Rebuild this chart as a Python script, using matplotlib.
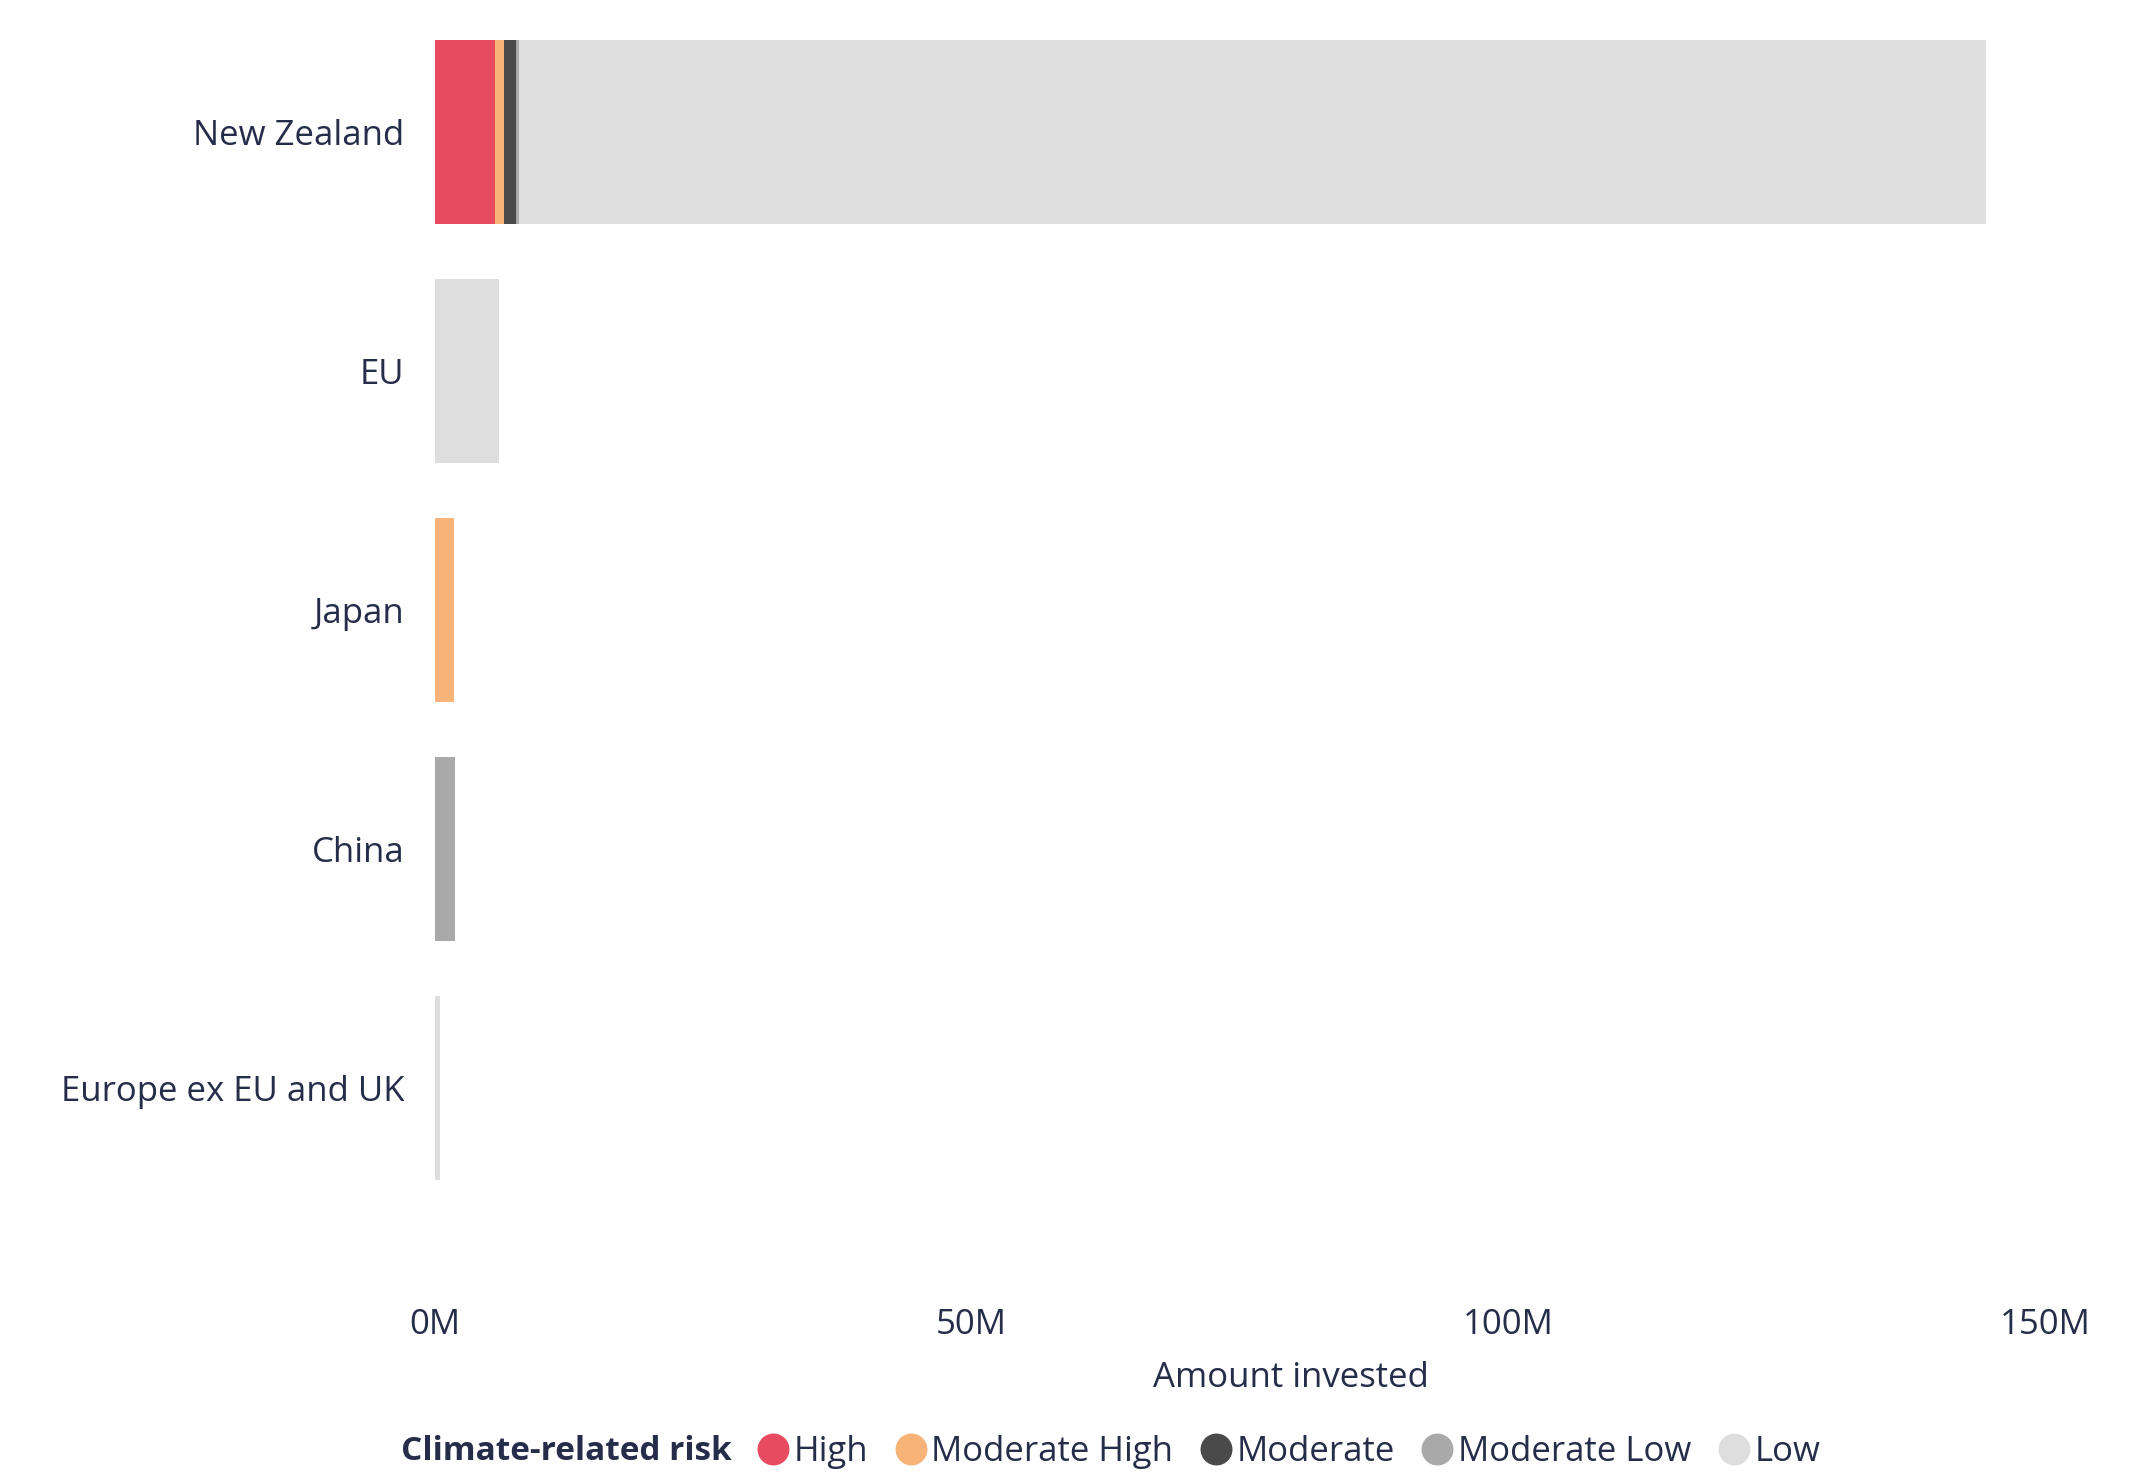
import matplotlib
matplotlib.use("Agg")
import matplotlib.pyplot as plt
from matplotlib.lines import Line2D
import numpy as np

categories = ["New Zealand", "EU", "Japan", "China", "Europe ex EU and UK"]
risk_levels = ["High", "Moderate High", "Moderate", "Moderate Low", "Low"]
# values in millions
high = [5.6, 0.0, 0.0, 0.0, 0.0]
moderate_high = [0.85, 0.0, 1.8, 0.0, 0.0]
moderate = [1.05, 0.0, 0.0, 0.0, 0.0]
moderate_low = [0.3, 0.0, 0.0, 1.9, 0.0]
low = [136.7, 6.0, 0.0, 0.0, 0.5]
xticks_m = [0, 50, 100, 150]
xtick_labels = ["0M", "50M", "100M", "150M"]

colors = ["#E84A5F", "#F8B379", "#4A4A4A", "#A9A9A9", "#DEDEDE"]
text_color = "#252D4A"

plt.rcParams['font.family'] = ['Open Sans', 'DejaVu Sans']

fig = plt.figure(figsize=(21.52, 14.75), dpi=100)
W, H = 2152, 1475
ax = fig.add_axes([435 / W, 1 - 1207.5 / H, (2045 - 435) / W, (1207.5 - 12.5) / H])

series = [high, moderate_high, moderate, moderate_low, low]
y = np.arange(len(categories))
left = np.zeros(len(categories))
for vals, c in zip(series, colors):
    v = np.array(vals) * 1e6
    ax.barh(y, v, left=left, height=0.77, color=c, edgecolor='none')
    left += v

ax.set_ylim(len(categories) - 0.5, -0.5)
ax.set_xlim(0, 150e6)
ax.set_yticks(y)
ax.set_yticklabels(categories, fontsize=25, color=text_color)
ax.set_xticks([t * 1e6 for t in xticks_m])
ax.set_xticklabels(xtick_labels, fontsize=25, color=text_color)
ax.tick_params(axis='y', length=0, pad=22)
ax.tick_params(axis='x', length=0, pad=72)
for s in ax.spines.values():
    s.set_visible(False)

fig.text(1291 / W, 1 - 1378 / H, "Amount invested", ha='center', va='center',
         fontsize=25, color=text_color)

fig.text(401 / W, 1 - 1452 / H, "Climate-related risk", ha='left', va='center',
         fontsize=24, color=text_color, fontweight='bold')
handles = [Line2D([0], [0], marker='o', linestyle='none', markersize=23,
                  markerfacecolor=c, markeredgecolor='none') for c in colors]
leg = fig.legend(handles, risk_levels, loc='center left',
                 bbox_to_anchor=(752 / W, 1 - 1452 / H), ncol=5, frameon=False,
                 fontsize=25, handletextpad=0.0, columnspacing=0.62,
                 handlelength=1.2, borderpad=0, borderaxespad=0)
for t in leg.get_texts():
    t.set_color(text_color)

fig.savefig("out.png", dpi=100, facecolor='white')
